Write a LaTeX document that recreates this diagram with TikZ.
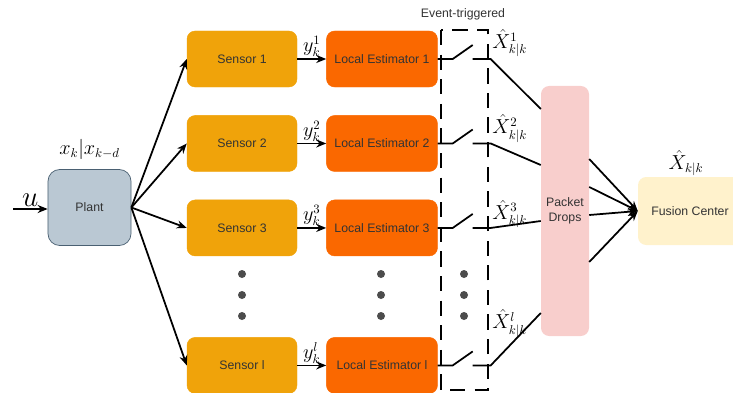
\documentclass[tikz,border=0pt]{standalone}
\usepackage{amsmath,amssymb}
\usepackage{fontspec}
\setsansfont{Liberation Sans}
\usepackage{tikz}
\usetikzlibrary{positioning, arrows.meta, calc}

\definecolor{plantfill}{HTML}{BAC8D3}
\definecolor{plantdraw}{HTML}{4A6072}
\definecolor{sensfill}{HTML}{F0A30A}
\definecolor{estfill}{HTML}{FA6800}
\definecolor{dropfill}{HTML}{F8CECC}
\definecolor{fusefill}{HTML}{FFF2CC}
\definecolor{txt}{HTML}{333333}

\begin{document}
\begin{tikzpicture}[
    x=0.03cm, y=-0.03cm,
    box/.style={rounded corners=7pt, align=center, inner sep=2pt,
                font=\sffamily\fontsize{10.5}{13}\selectfont, text=txt},
    sensor/.style={box, fill=sensfill, draw=sensfill, minimum width=3.3cm, minimum height=1.68cm},
    estim/.style={box, fill=estfill, draw=estfill, minimum width=3.33cm, minimum height=1.68cm},
    arr/.style={-{Stealth[length=3mm, width=2.4mm]}, line width=1.5pt},
    wire/.style={line width=1.5pt},
    mlbl/.style={font=\fontsize{16}{19}\selectfont, inner sep=1pt},
    dotmark/.style={fill=black!70},
]
\useasboundingbox (0,0) rectangle (733,392);

% plant
\node[box, fill=plantfill, draw=plantdraw, line width=0.6pt, rounded corners=10pt,
      minimum width=2.49cm, minimum height=2.28cm] (plant) at (89.5,207.5) {Plant};
\node[mlbl, above=0.25cm of plant] (plantlbl) {$x_k|x_{k-d}$};
\coordinate (uin) at (13,209);
\draw[arr] (uin) -- node[above, inner sep=1pt, font=\fontsize{24}{28}\selectfont] (ulbl) {$u$} (uin -| plant.west);

% sensors
\node[sensor] (s1) at (242,59) {Sensor 1};
\node[sensor, below=0.84cm of s1] (s2) {Sensor 2};
\node[sensor, below=0.84cm of s2] (s3) {Sensor 3};
\node[sensor, below=2.43cm of s3] (sl) {Sensor l};

% local estimators
\node[estim, right=0.87cm of s1] (le1) {Local Estimator 1};
\node[estim, right=0.87cm of s2] (le2) {Local Estimator 2};
\node[estim, right=0.87cm of s3] (le3) {Local Estimator 3};
\node[estim, right=0.87cm of sl] (lel) {Local Estimator l};

\foreach \s in {s1,s2,s3,sl}
    \draw[arr] (plant.east) -- (\s.west);

\draw[arr] (s1) -- node[above, mlbl] (y1) {$y_k^1$} (le1);
\draw[arr] (s2) -- node[above, mlbl] (y2) {$y_k^2$} (le2);
\draw[arr] (s3) -- node[above, mlbl] (y3) {$y_k^3$} (le3);
\draw[arr] (sl) -- node[above, mlbl] (yl) {$y_k^l$} (lel);

% dots
\foreach \x in {242,381,464}
    \foreach \y in {274,295,316}
        \fill[dotmark] (\x,\y) circle (0.12cm);

% event trigger box
\node[font=\sffamily\fontsize{10.5}{13}\selectfont, text=txt] (evt) at (463,14) {Event-triggered};
\draw[line width=1.2pt, dash pattern=on 13pt off 8pt] (441,30) rectangle (488,390);

% packet drops and fusion
\node[box, fill=dropfill, minimum width=1.44cm, minimum height=7.5cm] (pd) at (565,211) {Packet\\Drops};
\node[box, fill=fusefill, minimum width=3.12cm, minimum height=2.04cm] (fc) at (690,211) {Fusion Center};
\node[mlbl] (xhat) at (686,163) {$\hat{X}_{k|k}$};

% switches
\foreach \r/\off/\ly in {1/-102/-16, 2/-46/-15, 3/10/-14, l/102/-42} {
    \draw[wire] (le\r.east) -- ++(15,0) -- ++(20,-14);
    \coordinate (pin\r) at ($(pd.west)+(0,\off)$);
    \draw[wire] ($(le\r.east)+(35,0)$) -- ++(18,0) -- (pin\r);
    \node[mlbl] (xh\r) at ($(le\r.east)+(72,\ly)$) {$\hat{X}^{\r}_{k|k}$};
}

\foreach \off in {-52,-24,4,51} {
    \coordinate (pout) at ($(pd.east)+(0,\off)$);
    \draw[arr] (pout) -- (fc.west);
}

\end{tikzpicture}
\end{document}
